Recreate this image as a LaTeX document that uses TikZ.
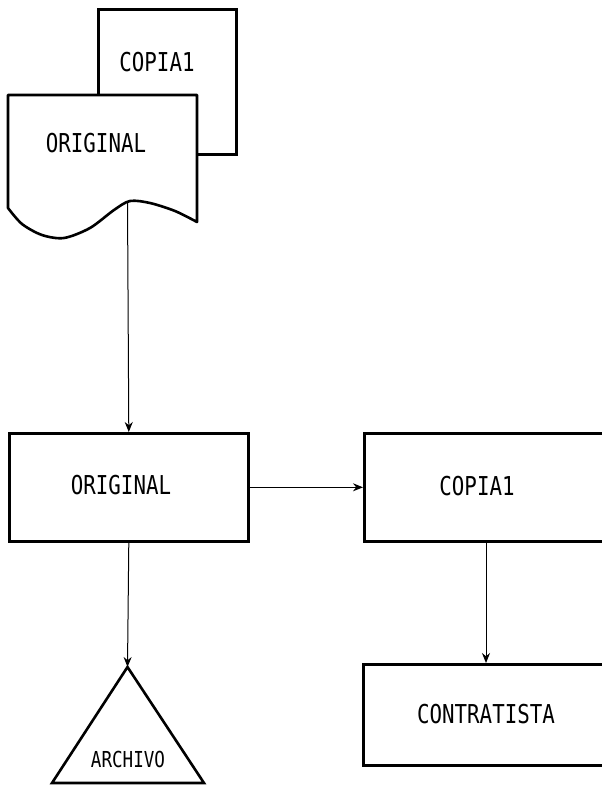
\documentclass[tikz,border=0pt]{standalone}
\usepackage{fontspec}
\newfontfamily\dotfont[FakeStretch=0.8]{DejaVu Sans Mono}
\usetikzlibrary{arrows.meta}
\begin{document}
\begin{tikzpicture}[x=1pt,y=-1pt,
  box/.style={draw=black,line width=2.6pt,inner sep=0pt,fill=white},
  lbl/.style={font=\dotfont\fontsize{26}{26}\selectfont,inner sep=0pt},
  conn/.style={draw=black,line width=1pt,-{Stealth[length=10pt,width=8pt]}}]
\useasboundingbox (0,0) rectangle (602,793);
\clip (0,0) rectangle (602,793);
% back copy sheet
\node[box,anchor=north west,minimum width=138pt,minimum height=145pt] (copiaA) at (97,8) {};
\node[lbl] (copiaAt) at (157,62) {COPIA1};
% original document sheet
\draw[box,line join=round] (197,222) -- (197,95) -- (8,95) -- (8,208)
  -- plot[smooth] coordinates {(8,208) (22,224) (42,235) (64,238) (90,228) (114,210) (130,201) (150,203) (175,211) (197,222)} -- cycle;
\node[lbl] (origAt) at (96,143) {ORIGINAL};
\coordinate (docBottom) at (127.5,201);
% boxes
\node[box,anchor=north west,minimum width=239pt,minimum height=108pt] (origB) at (8,432) {};
\node[lbl] (origBt) at (121,485) {ORIGINAL};
\node[box,anchor=north west,minimum width=280pt,minimum height=108pt] (copiaB) at (363,432) {};
\node[lbl] (copiaBt) at (477,486) {COPIA1};
\node[box,anchor=north west,minimum width=280pt,minimum height=101pt] (contB) at (362,663) {};
\node[lbl] (contBt) at (486,714) {CONTRATISTA};
% triangle
\coordinate (archTop) at (127.5,667);
\draw[box,line join=miter] (archTop) -- (52,783) -- (204,783) -- cycle;
\node[lbl,font=\dotfont\fontsize{22}{22}\selectfont] (archT) at (128,759) {ARCHIVO};
% connectors
\draw[conn] (docBottom) -- (origB.north);
\draw[conn] (origB.east) -- (copiaB.west);
\draw[conn] (origB.south) -- (archTop);
\draw[conn] (copiaB.south -| contBt) -- (contB.north -| contBt);
\end{tikzpicture}
\end{document}
